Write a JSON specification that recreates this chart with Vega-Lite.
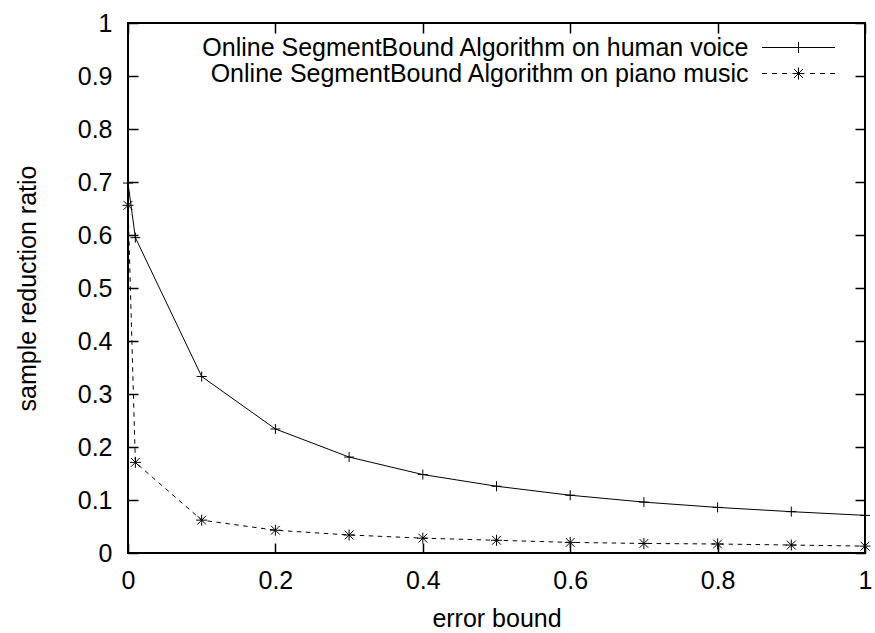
{
  "$schema": "https://vega.github.io/schema/vega-lite/v6.json",
  "width": 737,
  "height": 530,
  "autosize": "none",
  "padding": {"left": 128, "top": 23, "right": 10, "bottom": 80},
  "background": "white",
  "config": {
    "font": "Liberation Sans",
    "view": {"stroke": "black", "strokeWidth": 2},
    "axis": {
      "domain": false,
      "grid": false,
      "tickColor": "black",
      "tickSize": -10,
      "tickWidth": 1.5,
      "labelFont": "Liberation Sans",
      "labelFontSize": 25,
      "labelColor": "black",
      "labelFlush": false,
      "labelOverlap": false,
      "labelBound": false,
      "titleFont": "Liberation Sans",
      "titleFontSize": 25,
      "titleFontWeight": "normal",
      "titleColor": "black"
    }
  },
  "data": {
    "values": [
      {"series": "Online SegmentBound Algorithm on human voice", "x": 0, "y": 0.698},
      {"series": "Online SegmentBound Algorithm on human voice", "x": 0.01, "y": 0.595},
      {"series": "Online SegmentBound Algorithm on human voice", "x": 0.1, "y": 0.333},
      {"series": "Online SegmentBound Algorithm on human voice", "x": 0.2, "y": 0.234},
      {"series": "Online SegmentBound Algorithm on human voice", "x": 0.3, "y": 0.181},
      {"series": "Online SegmentBound Algorithm on human voice", "x": 0.4, "y": 0.148},
      {"series": "Online SegmentBound Algorithm on human voice", "x": 0.5, "y": 0.126},
      {"series": "Online SegmentBound Algorithm on human voice", "x": 0.6, "y": 0.109},
      {"series": "Online SegmentBound Algorithm on human voice", "x": 0.7, "y": 0.096},
      {"series": "Online SegmentBound Algorithm on human voice", "x": 0.8, "y": 0.086},
      {"series": "Online SegmentBound Algorithm on human voice", "x": 0.9, "y": 0.078},
      {"series": "Online SegmentBound Algorithm on human voice", "x": 1, "y": 0.071},
      {"series": "Online SegmentBound Algorithm on piano music", "x": 0, "y": 0.656},
      {"series": "Online SegmentBound Algorithm on piano music", "x": 0.01, "y": 0.171},
      {"series": "Online SegmentBound Algorithm on piano music", "x": 0.1, "y": 0.062},
      {"series": "Online SegmentBound Algorithm on piano music", "x": 0.2, "y": 0.043},
      {"series": "Online SegmentBound Algorithm on piano music", "x": 0.3, "y": 0.034},
      {"series": "Online SegmentBound Algorithm on piano music", "x": 0.4, "y": 0.028},
      {"series": "Online SegmentBound Algorithm on piano music", "x": 0.5, "y": 0.024},
      {"series": "Online SegmentBound Algorithm on piano music", "x": 0.6, "y": 0.020},
      {"series": "Online SegmentBound Algorithm on piano music", "x": 0.7, "y": 0.018},
      {"series": "Online SegmentBound Algorithm on piano music", "x": 0.8, "y": 0.017},
      {"series": "Online SegmentBound Algorithm on piano music", "x": 0.9, "y": 0.015},
      {"series": "Online SegmentBound Algorithm on piano music", "x": 1, "y": 0.013}
    ]
  },
  "layer": [
    {
      "transform": [{"filter": {"field": "series", "equal": "Online SegmentBound Algorithm on human voice"}}],
      "mark": {"type": "line", "color": "black", "strokeWidth": 1},
      "encoding": {
        "x": {"field": "x", "type": "quantitative", "scale": {"domain": [0, 1], "nice": false, "zero": false},
              "axis": {"values": [0, 0.2, 0.4, 0.6, 0.8, 1], "format": "~g", "labelPadding": 25, "title": "error bound", "titlePadding": 13}},
        "y": {"field": "y", "type": "quantitative", "scale": {"domain": [0, 1], "nice": false, "zero": false},
              "axis": {"values": [0, 0.1, 0.2, 0.3, 0.4, 0.5, 0.6, 0.7, 0.8, 0.9, 1], "format": "~g", "labelPadding": 26, "title": "sample reduction ratio", "titlePadding": 37}}
      }
    },
    {
      "transform": [{"filter": {"field": "series", "equal": "Online SegmentBound Algorithm on piano music"}}],
      "mark": {"type": "line", "color": "black", "strokeWidth": 1, "strokeDash": [4.5, 4.5]},
      "encoding": {
        "x": {"field": "x", "type": "quantitative", "axis": null},
        "y": {"field": "y", "type": "quantitative", "axis": null}
      }
    },
    {
      "transform": [{"filter": {"field": "series", "equal": "Online SegmentBound Algorithm on human voice"}}],
      "mark": {"type": "point", "shape": "M-1,0H1M0,-1V1", "size": 100, "filled": false, "color": "black", "strokeWidth": 1, "opacity": 1},
      "encoding": {
        "x": {"field": "x", "type": "quantitative",
              "axis": {"orient": "top", "values": [0, 0.2, 0.4, 0.6, 0.8, 1], "labels": false, "title": null}},
        "y": {"field": "y", "type": "quantitative",
              "axis": {"orient": "right", "values": [0, 0.1, 0.2, 0.3, 0.4, 0.5, 0.6, 0.7, 0.8, 0.9, 1], "labels": false, "title": null}}
      }
    },
    {
      "transform": [{"filter": {"field": "series", "equal": "Online SegmentBound Algorithm on piano music"}}],
      "mark": {"type": "point", "shape": "M-1,0H1M0,-1V1M-0.8,-0.8L0.8,0.8M-0.8,0.8L0.8,-0.8", "size": 121, "filled": false, "color": "black", "strokeWidth": 1, "opacity": 1},
      "encoding": {
        "x": {"field": "x", "type": "quantitative", "axis": null},
        "y": {"field": "y", "type": "quantitative", "axis": null}
      }
    },
    {
      "mark": {"type": "point", "filled": false, "color": "black", "strokeWidth": 1, "opacity": 1, "clip": true},
      "encoding": {
        "x": {"datum": -5, "type": "quantitative", "axis": null},
        "y": {"field": "y", "type": "quantitative", "axis": null},
        "shape": {"field": "series", "type": "nominal",
                  "scale": {"domain": ["Online SegmentBound Algorithm on human voice", "Online SegmentBound Algorithm on piano music"],
                            "range": ["M-7.3,0H7.3M-1,0H1M0,-1.1V1.1", "M-7.3,0H-6.3M-5.3,0H-4.3M-3.3,0H-2.3M2.3,0H3.3M4.3,0H5.3M6.3,0H7.3M-1.2,0H1.2M0,-1.2V1.2M-0.9,-0.9L0.9,0.9M-0.9,0.9L0.9,-0.9"]},
                  "legend": {
                    "orient": "none", "legendX": 658, "legendY": 12, "title": null, "padding": 0,
                    "labelAlign": "right", "labelOffset": -62.5, "labelFont": "Liberation Sans", "labelFontSize": 25,
                    "labelColor": "black", "labelLimit": 2000, "symbolSize": 100, "symbolStrokeWidth": 1,
                    "symbolStrokeColor": "black", "symbolFillColor": "transparent", "rowPadding": 0
                  }}
      }
    }
  ],
  "resolve": {"axis": {"x": "independent", "y": "independent"}}
}
